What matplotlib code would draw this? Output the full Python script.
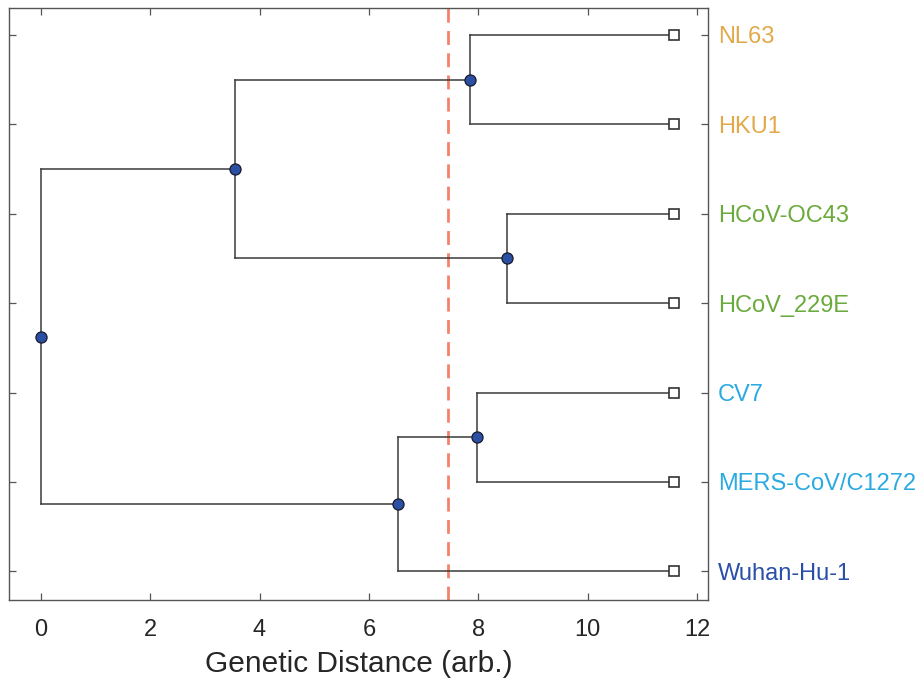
import matplotlib.pyplot as plt

# leaf names, top to bottom
leaves = ['NL63', 'HKU1', 'HCoV-OC43', 'HCoV_229E', 'CV7', 'MERS-CoV/C1272', 'Wuhan-Hu-1']
leaf_colors = ['#E2A94A', '#E2A94A', '#6BAA3C', '#6BAA3C', '#2BAAE2', '#2BAAE2', '#2A4FA8']
leaf_dist = 11.57
# merges: (child a, child b, distance); new nodes numbered after the leaves
merges = [(0, 1, 7.85), (2, 3, 8.52), (7, 8, 3.55), (4, 5, 7.97), (10, 6, 6.53), (9, 11, 0.0)]
cutoff = 7.44

plt.rcParams['font.family'] = ['Liberation Sans', 'DejaVu Sans']

fig = plt.figure(figsize=(9.2, 6.83), dpi=100)
ax = fig.add_axes([0.0098, 0.1215, 0.7598, 0.8668])

# positions of every node
ys = [len(leaves) - i for i in range(len(leaves))]
xs = [leaf_dist] * len(leaves)
line_c = '#3a3a3a'
for a, b, d in merges:
    ax.plot([d, d], [ys[a], ys[b]], color=line_c, lw=1.1, zorder=2)
    for c in (a, b):
        ax.plot([d, xs[c]], [ys[c], ys[c]], color=line_c, lw=1.1, zorder=2)
    xs.append(d)
    ys.append((ys[a] + ys[b]) / 2)

n = len(leaves)
ax.plot(xs[:n], ys[:n], 's', ms=6.5, mfc='white', mec='#333333', mew=1.2, zorder=3, ls='none')
ax.plot(xs[n:], ys[n:], 'o', ms=8, mfc='#2B4FA3', mec='#1a1a2e', mew=0.9, zorder=4, ls='none')

ax.axvline(cutoff, color='#F4826C', lw=2, ls=(0, (5, 3)), zorder=1)

ax.set_xlim(-0.58, 12.2)
ax.set_ylim(0.68, 7.3)
ax.set_xticks([0, 2, 4, 6, 8, 10, 12])
ax.set_yticks(ys[:n])
ax.set_yticklabels(leaves)

ax.tick_params(direction='in', length=5, width=0.9, color='#555555',
               top=True, right=True, labelleft=False, labelright=True)
ax.tick_params(axis='x', labelsize=17, pad=14, labelcolor='#262626')
ax.tick_params(axis='y', labelsize=17, pad=7)
for tick, col in zip(ax.yaxis.get_major_ticks(), leaf_colors):
    tick.label2.set_color(col)
for s in ax.spines.values():
    s.set_color('#555555')
    s.set_linewidth(1.0)

ax.set_xlabel('Genetic Distance (arb.)', fontsize=21.5, color='#262626', labelpad=6)

plt.savefig('out.png', dpi=100)
